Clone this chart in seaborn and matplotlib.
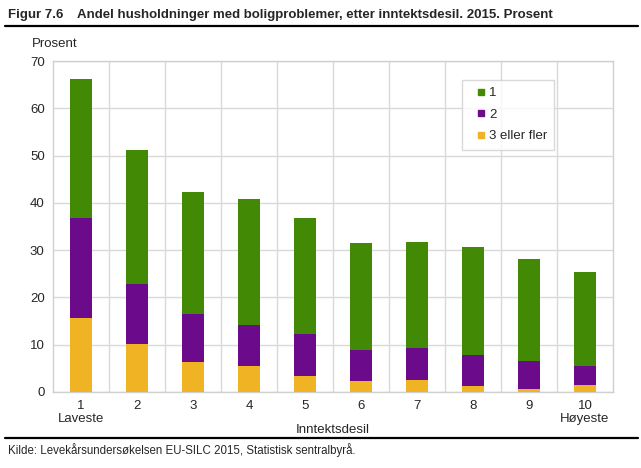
import numpy as np
import pandas as pd
import matplotlib
matplotlib.use("Agg")
import matplotlib.pyplot as plt
from matplotlib.lines import Line2D
import seaborn as sns

# data (percent of households per income decile)
deciles = ["1", "2", "3", "4", "5", "6", "7", "8", "9", "10"]
tick_labels = ["1\nLaveste", "2", "3", "4", "5", "6", "7", "8", "9", "10\nHøyeste"]
three_plus = [15.7, 10.1, 6.3, 5.4, 3.3, 2.4, 2.5, 1.3, 0.6, 1.4]
two = [21.1, 12.7, 10.2, 8.7, 8.9, 6.5, 6.7, 6.5, 6.0, 4.2]
one = [29.3, 28.4, 25.9, 26.7, 24.7, 22.6, 22.6, 22.9, 21.6, 19.8]
series_names = ["1", "2", "3 eller fler"]
colors = {"1": "#428a06", "2": "#6b0b8c", "3 eller fler": "#f0b323"}

sns.set_theme(style="white")
plt.rcParams["font.family"] = ["Liberation Sans", "DejaVu Sans"]
fs = 9.5

df = pd.DataFrame({"desil": deciles, "1": one, "2": two, "3 eller fler": three_plus})
# cumulative heights, drawn tallest first so the lower segments sit on top
df["cum_3"] = df["3 eller fler"]
df["cum_2"] = df["cum_3"] + df["2"]
df["cum_1"] = df["cum_2"] + df["1"]

fig = plt.figure(figsize=(6.41, 4.68), dpi=100)
ax = fig.add_axes([53 / 641, 1 - 392 / 468, 560 / 641, 331 / 468])

for col, name in [("cum_1", "1"), ("cum_2", "2"), ("cum_3", "3 eller fler")]:
    sns.barplot(data=df, x="desil", y=col, color=colors[name], saturation=1,
                width=0.39, ax=ax, zorder=3, linewidth=0)

ax.set_xlim(-0.5, 9.5)
ax.set_ylim(0, 70)
ax.set_yticks(np.arange(0, 71, 10))
ax.set_xticks(range(len(deciles)))
ax.set_xticklabels(tick_labels, fontsize=fs, linespacing=1.1)
ax.tick_params(axis="y", labelsize=fs, length=0, pad=6)
ax.tick_params(axis="x", length=0, pad=6)
ax.set_xticks(np.arange(0.5, 9.5, 1), minor=True)
ax.tick_params(which="minor", length=0)
ax.grid(axis="y", which="major", color="#d9d9d9", lw=1, zorder=0)
ax.grid(axis="x", which="minor", color="#d9d9d9", lw=1, zorder=0)
ax.grid(axis="x", which="major", visible=False)
for s in ax.spines.values():
    s.set_color("#d0d0d0")
    s.set_linewidth(1)
ax.set_ylabel("")
ax.set_xlabel("Inntektsdesil", fontsize=fs, labelpad=-1)

handles = [Line2D([], [], ls="none", marker="s", markersize=4.5, color=colors[n]) for n in series_names]
leg = ax.legend(handles, series_names, loc="upper left", bbox_to_anchor=(0.73, 0.943),
                fontsize=fs, handlelength=1.85, handletextpad=-0.35,
                labelspacing=0.7, borderpad=0.55, borderaxespad=0, frameon=True,
                fancybox=False)
leg.get_frame().set_edgecolor("#d0d0d0")
leg.get_frame().set_linewidth(1)

fig.text(32 / 641, 1 - 44 / 468, "Prosent", fontsize=fs, va="center")
fig.text(8 / 641, 1 - 15 / 468, "Figur 7.6", fontsize=fs, fontweight="bold", va="center")
fig.text(77 / 641, 1 - 15 / 468, "Andel husholdninger med boligproblemer, etter inntektsdesil. 2015. Prosent",
         fontsize=fs, fontweight="bold", va="center")
fig.add_artist(Line2D([5 / 641, 638 / 641], [1 - 26 / 468] * 2, color="black", lw=1.6))
fig.add_artist(Line2D([5 / 641, 638 / 641], [1 - 438 / 468] * 2, color="black", lw=1.6))
fig.text(8 / 641, 1 - 450 / 468, "Kilde: Levekårsundersøkelsen EU-SILC 2015, Statistisk sentralbyrå.",
         fontsize=8.3, va="center")

fig.savefig("out.png", dpi=100)
